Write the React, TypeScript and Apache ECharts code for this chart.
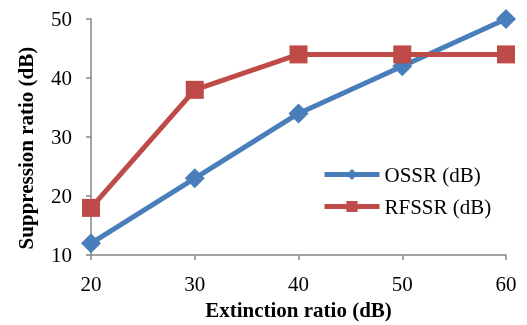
import React, { useEffect, useRef } from "react";
import * as echarts from "echarts";

const xValues = [20, 30, 40, 50, 60];
const ossr = [12, 23, 34, 42, 50];
const rfssr = [18, 38, 44, 44, 44];
const seriesNames = ["OSSR (dB)", "RFSSR (dB)"];

export default function App() {
  const ref = useRef<HTMLDivElement>(null);
  useEffect(() => {
    const chart = echarts.init(ref.current!, null, { renderer: "svg" });
    const font = "'Liberation Serif', 'Times New Roman', serif";
    chart.setOption({
      animation: false,
      textStyle: { fontFamily: font },
      grid: { left: 91, right: 21, top: 19, bottom: 66 },
      legend: {
        orient: "vertical",
        left: 317,
        top: 159,
        itemWidth: 55,
        itemHeight: 14,
        itemGap: 11,
        lineStyle: { width: 5 },
        textStyle: { fontFamily: font, fontSize: 21, color: "#000" },
        data: seriesNames,
      },
      xAxis: {
        type: "value",
        min: 20,
        max: 60,
        interval: 10,
        name: "Extinction ratio (dB)",
        nameLocation: "middle",
        nameGap: 40,
        nameTextStyle: { fontFamily: font, fontSize: 21, fontWeight: "bold", color: "#000" },
        axisLine: { lineStyle: { color: "#868686", width: 1.5 } },
        axisTick: { show: true, length: 5, lineStyle: { color: "#868686", width: 1.5 } },
        axisLabel: { fontFamily: font, fontSize: 21, color: "#000", margin: 18 },
        splitLine: { show: false },
      },
      yAxis: {
        type: "value",
        min: 10,
        max: 50,
        interval: 10,
        name: "Suppression ratio (dB)",
        nameLocation: "middle",
        nameGap: 55,
        nameTextStyle: {
          fontFamily: font,
          fontSize: 21,
          fontWeight: "bold",
          color: "#000",
          padding: [0, 22, 0, 0],
        },
        axisLine: { show: true, lineStyle: { color: "#868686", width: 1.5 } },
        axisTick: { show: true, length: 5, lineStyle: { color: "#868686", width: 1.5 } },
        axisLabel: { fontFamily: font, fontSize: 21, color: "#000", margin: 19 },
        splitLine: { show: false },
      },
      series: [
        {
          name: seriesNames[0],
          type: "line",
          data: xValues.map((x, i) => [x, ossr[i]]),
          symbol: "diamond",
          symbolSize: 20,
          lineStyle: { color: "#4a7ebb", width: 5 },
          itemStyle: { color: "#4a7ebb" },
        },
        {
          name: seriesNames[1],
          type: "line",
          data: xValues.map((x, i) => [x, rfssr[i]]),
          symbol: "rect",
          symbolSize: 18,
          lineStyle: { color: "#be4b48", width: 5 },
          itemStyle: { color: "#be4b48" },
        },
      ],
    });
    return () => chart.dispose();
  }, []);
  return (
    <div
      ref={ref}
      style={{ position: "fixed", left: 0, top: 0, width: 527, height: 325 }}
    />
  );
}
